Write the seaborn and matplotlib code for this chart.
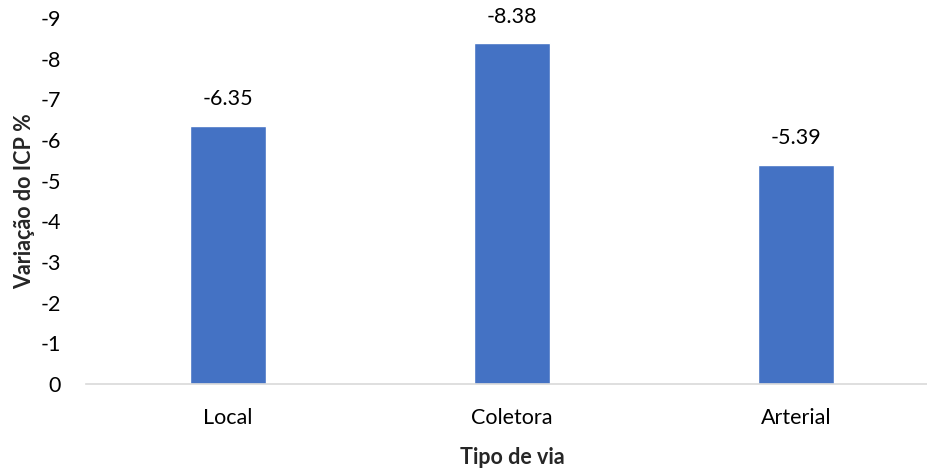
import matplotlib
matplotlib.use("Agg")
import matplotlib.pyplot as plt
import seaborn as sns
import pandas as pd

categorias = ["Local", "Coletora", "Arterial"]
variacao = [-6.35, -8.38, -5.39]
yticks = [0, -1, -2, -3, -4, -5, -6, -7, -8, -9]

sns.set_theme(style="white")
plt.rcParams["font.family"] = ["Lato", "DejaVu Sans"]

df = pd.DataFrame({"tipo": categorias, "var": variacao})

fig = plt.figure(figsize=(9.27, 4.71), dpi=100)
ax = fig.add_axes([86 / 927, 1 - 384 / 471, 852 / 927, (384 - 18) / 471])

sns.barplot(data=df, x="tipo", y="var", color="#4472C4", width=0.27,
            saturation=1, ax=ax)

ax.set_ylim(0, -9)
ax.set_xlim(-0.5, 2.5)
ax.set_yticks(yticks)
ax.set_yticklabels([str(t) for t in yticks], fontsize=15.5, color="#000000")
ax.tick_params(axis="x", labelsize=15.5, colors="#000000", length=0, pad=17)
ax.tick_params(axis="y", length=0, pad=18)

for s in ["top", "right", "left"]:
    ax.spines[s].set_visible(False)
ax.spines["bottom"].set_color("#d9d9d9")
ax.spines["bottom"].set_linewidth(1.2)

for i, v in enumerate(variacao):
    ax.annotate(f"{v:.2f}", (i, v), xytext=(0, 12), textcoords="offset points",
                ha="center", va="bottom", fontsize=15.5, color="#000000")

ax.set_xlabel("Tipo de via", fontsize=15.5, fontweight="bold", labelpad=14)
ax.set_ylabel("Variação do ICP %", fontsize=15.5, fontweight="bold", labelpad=4)

fig.savefig("out.png", dpi=100)
